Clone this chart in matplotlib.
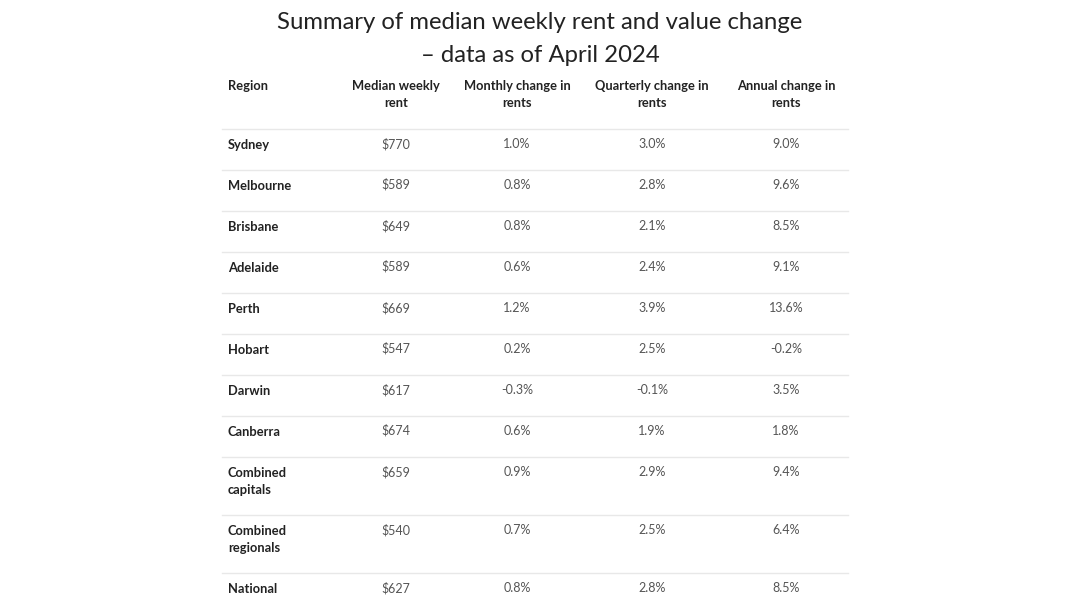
import matplotlib.pyplot as plt

plt.rcParams['font.family'] = ['Lato', 'DejaVu Sans']

title = "Summary of median weekly rent and value change\n– data as of April 2024"
headers = ["Region", "Median weekly\nrent", "Monthly change in\nrents",
           "Quarterly change in\nrents", "Annual change in\nrents"]
regions = ["Sydney", "Melbourne", "Brisbane", "Adelaide", "Perth", "Hobart",
           "Darwin", "Canberra", "Combined\ncapitals", "Combined\nregionals", "National"]
median_rent = [770, 589, 649, 589, 669, 547, 617, 674, 659, 540, 627]
monthly = [1.0, 0.8, 0.8, 0.6, 1.2, 0.2, -0.3, 0.6, 0.9, 0.7, 0.8]
quarterly = [3.0, 2.8, 2.1, 2.4, 3.9, 2.5, -0.1, 1.9, 2.9, 2.5, 2.8]
annual = [9.0, 9.6, 8.5, 9.1, 13.6, -0.2, 3.5, 1.8, 9.4, 6.4, 8.5]

fig = plt.figure(figsize=(10.8, 6.08), dpi=100)
ax = fig.add_axes([0, 0, 1, 1])
ax.set_xlim(0, 1080)
ax.set_ylim(608, 0)
ax.axis('off')

ax.text(540, 39, title, ha='center', va='center', fontsize=17.2,
        color='#222222', linespacing=1.7)

# header
col_x = [228, 396, 517, 652, 786]
for i, h in enumerate(headers):
    ax.text(col_x[i], 80, h, ha='left' if i == 0 else 'center', va='top',
            fontsize=9.3, fontweight='bold', color='#222222', linespacing=1.5)

line_x0, line_x1 = 222, 848
y = 129
ax.plot([line_x0, line_x1], [y, y], color='#e8e8e8', lw=1)
for i, r in enumerate(regions):
    n_lines = r.count('\n') + 1
    h = 41 if n_lines == 1 else 58
    ty = y + 10
    ax.text(col_x[0], ty, r, ha='left', va='top', fontsize=9.3,
            fontweight='bold', color='#222222', linespacing=1.5)
    vals = [f"${median_rent[i]}", f"{monthly[i]:.1f}%",
            f"{quarterly[i]:.1f}%", f"{annual[i]:.1f}%"]
    for j, v in enumerate(vals):
        ax.text(col_x[j + 1], ty + 9, v, ha='center', va='baseline', fontsize=9,
                color='#555555')
    y += h
    if i < len(regions) - 1:
        ax.plot([line_x0, line_x1], [y, y], color='#e8e8e8', lw=1)

fig.savefig('out.png', dpi=100, facecolor='white')
